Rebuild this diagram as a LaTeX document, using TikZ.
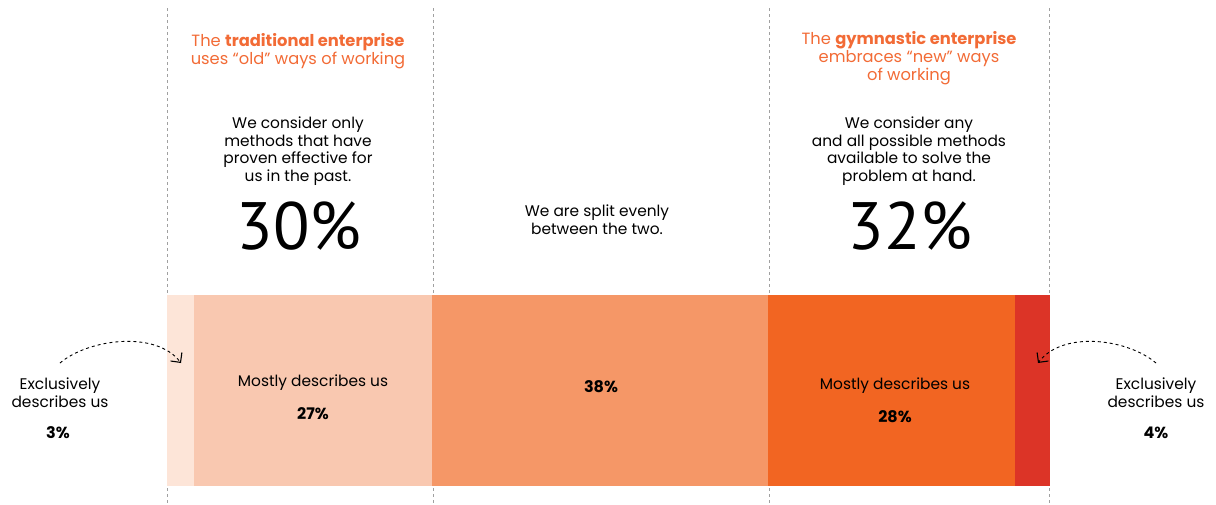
\documentclass[tikz,border=0pt]{standalone}
\usepackage{fontspec}
\setmainfont{Poppins}
\newfontfamily\numfont{PT Sans}
\usetikzlibrary{arrows.meta,positioning}
\definecolor{headorange}{HTML}{F26B36}
\definecolor{segA}{HTML}{FDE5D8}
\definecolor{segB}{HTML}{F9C8B0}
\definecolor{segC}{HTML}{F59767}
\definecolor{segD}{HTML}{F26522}
\definecolor{segE}{HTML}{DC3427}
\definecolor{guidegray}{HTML}{A0A0A0}

\begin{document}
\begin{tikzpicture}[x=1pt, y=-1pt,
    head/.style={text=headorange, align=center, inner sep=0pt, font=\fontsize{16.3}{18}\selectfont},
    body/.style={align=center, inner sep=0pt, font=\fontsize{15.4}{17.7}\selectfont},
    big/.style={inner sep=0pt, font=\numfont\fontsize{67}{67}\selectfont},
    pct/.style={inner sep=0pt, font=\bfseries\fontsize{16}{18}\selectfont},
    guide/.style={guidegray, dash pattern=on 3pt off 3pt, line width=0.8pt},
    pointer/.style={dashed, line width=0.9pt, -{Straight Barb[angle=90:10pt, line width=1.1pt]}}]
  \useasboundingbox (0,0) rectangle (1216,504);

  % column guides
  \foreach \gx in {167,433,769,1049}
    \draw[guide] (\gx,8) -- (\gx,504);

  % the bar
  \fill[segA] (167,295) rectangle (194,486);
  \fill[segB] (194,295) rectangle (432,486);
  \fill[segC] (432,295) rectangle (768,486);
  \fill[segD] (768,295) rectangle (1015,486);
  \fill[segE] (1015,295) rectangle (1050,486);

  % left column
  \node[head] (headL) at (298,51) {The \textbf{traditional enterprise}\\uses “old” ways of working};
  \node[body] (bodyL) at (298,151) {We consider only\\methods that have\\proven effective for\\us in the past.};
  \node[big] (bigL) at (299,226) {30\%};

  % middle column
  \node[body] (bodyM) at (597,220) {We are split evenly\\between the two.};

  % right column
  \node[head] (headR) at (909,58) {The \textbf{gymnastic enterprise}\\embraces “new” ways\\of working};
  \node[body] (bodyR) at (909,151) {We consider any\\and all possible methods\\available to solve the\\problem at hand.};
  \node[big] (bigR) at (910,226) {32\%};

  % bar labels
  \node[body] (mostL) at (313,383) {Mostly describes us};
  \node[pct, below=31pt of mostL.center, anchor=center] (pctL) {27\%};
  \node[pct] (pctM) at (601,387) {38\%};
  \node[body] (mostR) at (895,386) {Mostly describes us};
  \node[pct, below=31pt of mostR.center, anchor=center] (pctR) {28\%};

  % outside labels
  \node[body] (exL) at (60,393) {Exclusively\\describes us};
  \node[pct] (exLpct) at (58,433) {3\%};
  \node[body] (exR) at (1156,393) {Exclusively\\describes us};
  \node[pct] (exRpct) at (1156,433) {4\%};

  \coordinate (tipL) at (181,363);
  \coordinate (tipR) at (1038,363);
  \draw[pointer] ([yshift=15pt]exL.north) .. controls +(28,-24) and +(-25,-33) .. (tipL);
  \draw[pointer] ([yshift=15pt]exR.north) .. controls +(-28,-24) and +(25,-33) .. (tipR);
\end{tikzpicture}
\end{document}
